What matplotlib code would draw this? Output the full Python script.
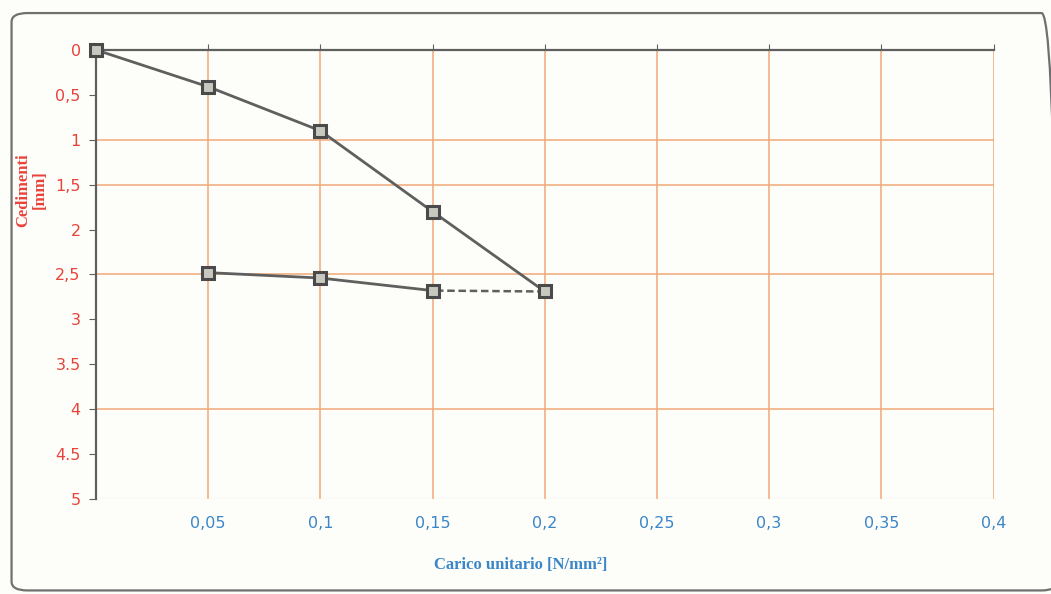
import matplotlib.pyplot as plt
from matplotlib.patches import FancyBboxPatch

# load (x) in N/mm2, settlement (y) in mm
load_x = [0.0, 0.05, 0.10, 0.15, 0.20]
load_y = [0.0, 0.41, 0.90, 1.80, 2.69]
unload_x = [0.20, 0.15, 0.10, 0.05]
unload_y = [2.69, 2.68, 2.54, 2.48]

x_ticks = [0.0, 0.05, 0.10, 0.15, 0.20, 0.25, 0.30, 0.35, 0.40]
x_labels = ["", "0,05", "0,1", "0,15", "0,2", "0,25", "0,3", "0,35", "0,4"]
y_ticks = [0, 0.5, 1, 1.5, 2, 2.5, 3, 3.5, 4, 4.5, 5]
y_labels = ["0", "0,5", "1", "1,5", "2", "2,5", "3", "3.5", "4", "4.5", "5"]
grid_y = [1, 1.5, 2.5, 4]

LINE = "#5f5f5f"
ORANGE = "#f0a878"
RED = "#e8433a"
BLUE = "#3a86c8"

fig = plt.figure(figsize=(10.51, 5.94), dpi=100)
fig.patch.set_facecolor("#fdfdf9")

# rounded outer frame
frame = FancyBboxPatch((0.011, 0.006), 0.995, 0.972, boxstyle="round,pad=0,rounding_size=0.015",
                       transform=fig.transFigure, fill=False, edgecolor="#707070", linewidth=1.6)
fig.patches.append(frame)

ax = fig.add_axes([0.0913, 0.160, 0.854, 0.756])
ax.set_facecolor("#fdfdf9")
ax.set_xlim(0, 0.4)
ax.set_ylim(5, 0)

for x in x_ticks[1:]:
    ax.axvline(x, color=ORANGE, lw=1.1, zorder=1)
for y in grid_y:
    ax.axhline(y, color=ORANGE, lw=1.1, zorder=1)
ax.axhline(5, color="#e8e8e8", lw=1.0, zorder=1)

ax.plot(load_x, load_y, color=LINE, lw=2.0, zorder=3)
ax.plot(unload_x[:2], unload_y[:2], color=LINE, lw=1.8, ls=(0, (3, 1.5)), zorder=3)
ax.plot(unload_x[1:], unload_y[1:], color=LINE, lw=2.0, zorder=3)
ax.plot(load_x + unload_x[1:], load_y + unload_y[1:], ls="none", marker="s", ms=9,
        mfc="#c8c8c0", mec="#4a4a4a", mew=2.2, zorder=4, clip_on=False)

ax.spines["right"].set_visible(False)
ax.spines["bottom"].set_visible(False)
ax.spines["top"].set_color(LINE)
ax.spines["left"].set_color(LINE)
ax.spines["top"].set_linewidth(1.6)
ax.spines["left"].set_linewidth(1.6)

ax.set_xticks(x_ticks)
ax.set_xticklabels(x_labels, color=BLUE, fontsize=11.5, fontfamily="DejaVu Sans")
ax.tick_params(axis="x", top=True, bottom=False, direction="out", length=4, color=LINE, pad=8)
ax.set_yticks(y_ticks)
ax.set_yticklabels(y_labels, color=RED, fontsize=11.5, fontfamily="DejaVu Sans")
ax.tick_params(axis="y", direction="out", length=5, color=LINE, pad=6)

fig.text(0.030, 0.68, "Cedimenti\n[mm]", rotation=90, ha="center", va="center",
         color=RED, fontsize=12, fontweight="bold", fontfamily="Liberation Serif",
         linespacing=1.0)
fig.text(0.495, 0.048, "Carico unitario [N/mm²]", ha="center", va="center",
         color=BLUE, fontsize=12, fontweight="bold", fontfamily="Liberation Serif")

fig.savefig("out.png", dpi=100, facecolor=fig.get_facecolor())
